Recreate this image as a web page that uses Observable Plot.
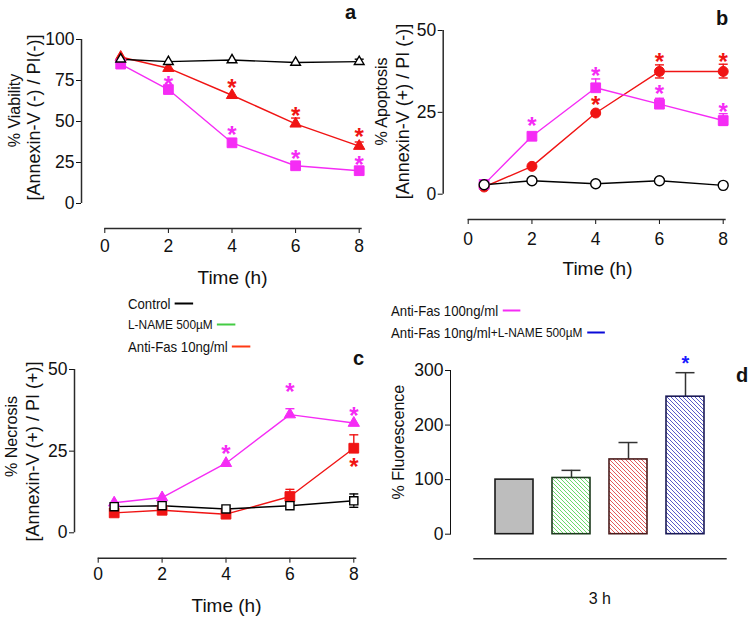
<!DOCTYPE html>
<html>
<head>
<meta charset="utf-8">
<script src="https://cdn.jsdelivr.net/npm/d3@7"></script>
<script src="https://cdn.jsdelivr.net/npm/@observablehq/plot@0.6"></script>
<style>
  body { margin: 0; background: #fff; font-family: "Liberation Sans", Arial, sans-serif; }
  #root { position: relative; width: 749px; height: 618px; overflow: hidden; background: #fff; }
  #root svg { position: absolute; background: transparent; overflow: visible; }
  .leg { position: absolute; font-size: 15px; color: #111; white-space: nowrap; display: flex; align-items: center; transform: translateY(-50%) scaleX(0.88); transform-origin: left center; z-index: 2; }
  .leg .ln { display: inline-block; width: 20.5px; height: 0; border-top: 2.6px solid; margin-left: 5px; }
  .leg .sm { font-size: 13.5px; }
</style>
</head>
<body>
<div id="root"></div>
<script>
// ---------------- DATA ----------------
const times = [0.5, 2, 4, 6, 8];
const timeTicks = [0, 2, 4, 6, 8];

// Panel a: % Viability
const viabilityTicks = [0, 25, 50, 75, 100];
const viabilityControl = [88, 86.5, 87.5, 86, 86.5];
const viabilityControlErrUp = [0, 0, 0, 0, 1.5];
const viabilityControlErrDown = [0, 0, 0, 0, 1.5];
const viabilityFas10 = [89.3, 82.5, 66, 48.6, 35];
const viabilityFas10ErrUp = [0, 0, 0, 3.5, 2.5];
const viabilityFas100 = [85, 69.5, 37, 23, 20];
const viabilityStarsFas10 = [null, null, 74, 57, 44];
const viabilityStarsFas100 = [null, 76, 45.5, 30.7, 27];

// Panel b: % Apoptosis
const apoptosisTicks = [0, 25, 50];
const apoptosisControl = [2.9, 4.1, 3.2, 4.1, 2.7];
const apoptosisFas10 = [2.2, 8.5, 24.8, 37.5, 37.5];
const apoptosisFas10ErrUp = [0, 0, 0, 2, 2.2];
const apoptosisFas10ErrDown = [0, 0, 0, 2, 2];
const apoptosisFas100 = [3, 17.7, 32.5, 27.5, 22.5];
const apoptosisFas100ErrUp = [0, 0, 2.7, 1.8, 2.1];
const apoptosisFas100ErrDown = [0, 0, 0, 0, 1.5];
const apoptosisStarsFas10 = [null, null, 28.9, 42, 42];
const apoptosisStarsFas100 = [null, 22.5, 37.9, 32.3, 26.8];

// Panel c: % Necrosis
const necrosisTicks = [0, 25, 50];
const necrosisControl = [8, 8.3, 7.3, 8.3, 9.8];
const necrosisControlErrUp = [0, 0, 0, 0, 2.1];
const necrosisControlErrDown = [0, 0, 0, 0, 2];
const necrosisFas10 = [6.1, 6.9, 5.7, 11.1, 25.9];
const necrosisFas10ErrUp = [0, 0, 0, 2.2, 4.1];
const necrosisFas100 = [9.2, 10.8, 21.3, 36.2, 33.6];
const necrosisFas100ErrUp = [0, 0, 0, 1.8, 0];
const necrosisStarsFas10 = [null, null, null, null, 22];
const necrosisStarsFas100 = [null, null, 25.9, 44.7, 37.6];

// Panel d: % Fluorescence at 3 h
const groups = ["Control", "L-NAME 500µM", "Anti-Fas 10ng/ml", "Anti-Fas 10ng/ml+L-NAME 500µM"];
const fluorTicks = [0, 100, 200, 300];
const fluorescence = [100, 103, 137, 252];
const fluorescenceErr = [0, 14, 31, 44];
const fluorescenceStars = [null, null, null, 322];

// Legend labels
const legendLeft = ["Control", "L-NAME 500µM", "Anti-Fas 10ng/ml"];
const legendRight = ["Anti-Fas 100ng/ml", ["Anti-Fas 10ng/ml", "+L-NAME 500µM"]];

// ---------------- STYLES ----------------
const AX = "#2a2a2a";
const COL = { control: "#000000", lname: "#44cc44", fas10: "#f01414", fas100: "#f52cf5", combo: "#0a0ad8" };
const FONT = "'Liberation Sans', Arial, Helvetica, sans-serif";
const capSymbol = { draw(ctx, size) { const w = Math.sqrt(size) / 2; ctx.moveTo(-w, 0); ctx.lineTo(w, 0); } };
const CAP_R = 9 / Math.sqrt(Math.PI);

const root = document.getElementById("root");
function place(svg, left, top) {
  svg.style.left = left + "px";
  svg.style.top = top + "px";
  root.appendChild(svg);
}

function rows(values, up, down, stars) {
  return times.map((t, i) => ({
    t, v: values[i],
    up: up ? up[i] : 0,
    dn: down ? down[i] : 0,
    star: stars ? stars[i] : null
  }));
}

function linePanel(L, yDomain, yTicks, series) {
  const insetL = L.x0 - L.frameLeft;
  const insetR = L.frameRight - L.x8;
  const gap = L.axisY - L.y0;
  const midY = (L.yTop + L.axisY) / 2;
  const midX = (L.frameLeft + L.frameRight) / 2;
  const marks = [];
  // axis lines
  marks.push(Plot.ruleX([timeTicks[0]], { y1: yDomain[0], y2: yDomain[1], dx: -insetL, stroke: AX, strokeWidth: 1.5 }));
  marks.push(Plot.ruleY([yDomain[0]], { x1: timeTicks[0], x2: timeTicks[timeTicks.length - 1], dy: gap, insetRight: -3, stroke: AX, strokeWidth: 1.5 }));
  // connecting lines
  for (const s of series) marks.push(Plot.line(s.data, { x: "t", y: "v", stroke: s.color, strokeWidth: 1.4 }));
  // error bars
  for (const s of series) {
    const e = s.data.filter(d => d.up > 0 || d.dn > 0);
    marks.push(Plot.ruleX(e, { x: "t", y1: d => d.v - d.dn, y2: d => d.v + d.up, stroke: s.color, strokeWidth: 1.4 }));
    const caps = e.flatMap(d => [d.up > 0 ? { t: d.t, y: d.v + d.up } : null, d.dn > 0 ? { t: d.t, y: d.v - d.dn } : null]).filter(Boolean);
    marks.push(Plot.dot(caps, { x: "t", y: "y", symbol: capSymbol, r: CAP_R, fill: "none", stroke: s.color, strokeWidth: 1.4 }));
  }
  // markers
  for (const s of series) {
    marks.push(Plot.dot(s.data, {
      x: "t", y: "v", symbol: s.symbol, r: s.r,
      fill: s.open ? "white" : s.color,
      stroke: s.open ? "#000" : s.color,
      strokeWidth: s.open ? 1.4 : 1
    }));
  }
  // significance stars
  for (const s of series) {
    marks.push(Plot.text(s.data.filter(d => d.star != null), {
      x: "t", y: "star", text: () => "*", fill: s.color, fontSize: 24, fontWeight: "bold", dy: 6
    }));
  }
  // titles
  marks.push(Plot.text([L.title1], { text: d => d, frameAnchor: "left", rotate: -90, textAnchor: "middle", lineAnchor: "middle", fontSize: 16, dx: L.t1[0] - L.frameLeft, dy: L.t1[1] - midY }));
  marks.push(Plot.text([L.title2], { text: d => d, frameAnchor: "left", rotate: -90, textAnchor: "middle", lineAnchor: "middle", fontSize: 18, dx: L.t2[0] - L.frameLeft, dy: L.t2[1] - midY }));
  marks.push(Plot.text(["Time (h)"], { text: d => d, frameAnchor: "bottom", textAnchor: "middle", lineAnchor: "middle", fontSize: 19, dx: L.xlab[0] - midX, dy: L.xlab[1] - L.axisY }));
  marks.push(Plot.text([L.letter], { text: d => d, frameAnchor: "top-right", textAnchor: "middle", lineAnchor: "middle", fontSize: 20, fontWeight: "bold", dx: L.letterPos[0] - L.frameRight, dy: L.letterPos[1] - L.yTop }));

  const svg = Plot.plot({
    width: L.w, height: L.h,
    marginLeft: L.frameLeft - L.left,
    marginRight: L.left + L.w - L.frameRight,
    marginTop: L.yTop - L.top,
    marginBottom: L.top + L.h - L.axisY,
    x: { domain: [timeTicks[0], timeTicks[timeTicks.length - 1]], ticks: timeTicks, insetLeft: insetL, insetRight: insetR, tickSize: 5, tickPadding: L.xPad, label: null },
    y: { domain: yDomain, ticks: yTicks, insetBottom: gap, tickSize: 5, tickPadding: 2, label: null },
    style: { background: "transparent", fontFamily: FONT, fontSize: "17.5px", color: "#111", overflow: "visible" },
    marks
  });
  place(svg, L.left, L.top);
}

// Panel a
linePanel(
  { left: 0, top: 0, w: 372, h: 290, frameLeft: 81, frameRight: 362, x0: 104.3, x8: 358.7, yTop: 39, y0: 203, axisY: 228, xPad: 6,
    title1: "% Viability", title2: "[Annexin-V (-) / PI(-)]", t1: [14, 110], t2: [34, 117], xlab: [232, 277], letter: "a", letterPos: [350, 12] },
  [0, 100], viabilityTicks,
  [
    { data: rows(viabilityFas10, viabilityFas10ErrUp, null, viabilityStarsFas10), color: COL.fas10, symbol: "triangle", r: 4.2 },
    { data: rows(viabilityFas100, null, null, viabilityStarsFas100), color: COL.fas100, symbol: "square", r: 5.5 },
    { data: rows(viabilityControl, viabilityControlErrUp, viabilityControlErrDown, null), color: COL.control, symbol: "triangle", r: 3.6, open: true }
  ]
);

// Panel b
linePanel(
  { left: 372, top: 0, w: 377, h: 290, frameLeft: 442.7, frameRight: 724, x0: 467.7, x8: 722.7, yTop: 30, y0: 193.7, axisY: 219, xPad: 8,
    title1: "% Apoptosis", title2: "[Annexin-V (+) / PI (-)]", t1: [381, 101], t2: [403, 111], xlab: [597, 268], letter: "b", letterPos: [721.5, 18] },
  [0, 50], apoptosisTicks,
  [
    { data: rows(apoptosisFas10, apoptosisFas10ErrUp, apoptosisFas10ErrDown, apoptosisStarsFas10), color: COL.fas10, symbol: "circle", r: 5 },
    { data: rows(apoptosisFas100, apoptosisFas100ErrUp, apoptosisFas100ErrDown, apoptosisStarsFas100), color: COL.fas100, symbol: "square", r: 5.5 },
    { data: rows(apoptosisControl, null, null, null), color: COL.control, symbol: "circle", r: 5, open: true }
  ]
);

// Panel c
linePanel(
  { left: 0, top: 290, w: 372, h: 328, frameLeft: 74, frameRight: 355, x0: 97.7, x8: 353.3, yTop: 369, y0: 532.3, axisY: 557.7, xPad: 4,
    title1: "% Necrosis", title2: "[Annexin-V (+) / PI (+)]", t1: [11, 436], t2: [33, 451], xlab: [226, 605], letter: "c", letterPos: [358, 358] },
  [0, 50], necrosisTicks,
  [
    { data: rows(necrosisFas10, necrosisFas10ErrUp, null, necrosisStarsFas10), color: COL.fas10, symbol: "square", r: 5.5 },
    { data: rows(necrosisFas100, necrosisFas100ErrUp, null, necrosisStarsFas100), color: COL.fas100, symbol: "triangle", r: 4.2 },
    { data: rows(necrosisControl, necrosisControlErrUp, necrosisControlErrDown, null), color: COL.control, symbol: "square", r: 4.6, open: true }
  ]
);

// Panel d
(function () {
  const L = { left: 372, top: 290, w: 377, h: 328, frameLeft: 450, frameRight: 726.7, yTop: 370, y0: 533.7, baseY: 558.3, insetL: 23.6, insetR: 2.1 };
  const barStyle = [
    { fill: "#bdbdbd", stroke: "#1a1a1a" },
    { fill: "url(#hatch-green)", stroke: "#1d3a1d" },
    { fill: "url(#hatch-red)", stroke: "#4a1c1c" },
    { fill: "url(#hatch-blue)", stroke: "#1a1a55" }
  ];
  const hatch = [
    { id: "hatch-green", color: "#5ad65a" },
    { id: "hatch-red", color: "#e04848" },
    { id: "hatch-blue", color: "#4747c2" }
  ];
  const data = groups.map((g, i) => ({ g, v: fluorescence[i], err: fluorescenceErr[i], star: fluorescenceStars[i], fill: barStyle[i].fill, stroke: barStyle[i].stroke }));
  const errs = data.filter(d => d.err > 0);
  const midX = (L.frameLeft + L.frameRight) / 2;
  const midY = (L.yTop + L.y0) / 2;
  const svg = Plot.plot({
    width: L.w, height: L.h,
    marginLeft: L.frameLeft - L.left,
    marginRight: L.left + L.w - L.frameRight,
    marginTop: L.yTop - L.top,
    marginBottom: L.top + L.h - L.y0,
    x: { type: "band", domain: groups, padding: 0.33, insetLeft: L.insetL, insetRight: L.insetR, axis: null },
    y: { domain: [0, 300], ticks: fluorTicks, line: true, tickSize: 5, tickPadding: 2, label: null },
    color: { type: "identity" },
    style: { background: "transparent", fontFamily: FONT, fontSize: "17.5px", color: "#111", overflow: "visible" },
    marks: [
      Plot.ruleX(errs, { x: "g", y1: "v", y2: d => d.v + d.err, stroke: "#333", strokeWidth: 1.5 }),
      Plot.tickY(errs, { x: "g", y: d => d.v + d.err, insetLeft: 9.5, insetRight: 9.5, stroke: "#333", strokeWidth: 1.5 }),
      Plot.barY(data, { x: "g", y: "v", fill: "fill", stroke: "stroke", strokeWidth: 1.6 }),
      Plot.text(data.filter(d => d.star != null), { x: "g", y: "star", text: () => "*", fill: "#1a1aff", fontSize: 20, fontWeight: "bold", dy: 5 }),
      Plot.ruleY([0], { dy: L.baseY - L.y0, insetLeft: L.insetL - 0.3, stroke: AX, strokeWidth: 1.5 }),
      Plot.text(["3 h"], { text: d => d, frameAnchor: "bottom", textAnchor: "middle", lineAnchor: "middle", fontSize: 16, dx: 599.3 - midX, dy: 598 - L.y0 }),
      Plot.text(["% Fluorescence"], { text: d => d, frameAnchor: "left", rotate: -90, textAnchor: "middle", lineAnchor: "middle", fontSize: 16, dx: 398 - L.frameLeft, dy: 441.6 - midY }),
      Plot.text(["d"], { text: d => d, frameAnchor: "top-right", textAnchor: "middle", lineAnchor: "middle", fontSize: 20, fontWeight: "bold", dx: 741.7 - L.frameRight, dy: 375 - L.yTop })
    ]
  });
  const defs = d3.select(svg).insert("defs", ":first-child");
  for (const h of hatch) {
    const p = defs.append("pattern").attr("id", h.id).attr("patternUnits", "userSpaceOnUse").attr("width", 4).attr("height", 4);
    p.append("rect").attr("width", 4).attr("height", 4).attr("fill", "white");
    p.append("path").attr("d", "M-1,-1L5,5M-1,3L1,5M3,-1L5,1").attr("stroke", h.color).attr("stroke-width", 0.9);
  }
  place(svg, L.left, L.top);
})();

// Legend
const legendLayout = {
  left: [{ x: 128, y: 303, color: COL.control }, { x: 128, y: 324, color: COL.lname, small: true }, { x: 128, y: 346, color: "#ff3a14" }],
  right: [{ x: 391, y: 310, color: COL.fas100 }, { x: 391, y: 332, color: COL.combo }]
};
function addLegend(labels, layout) {
  labels.forEach((lab, i) => {
    const P = layout[i];
    const div = document.createElement("div");
    div.className = "leg";
    div.style.left = P.x + "px";
    div.style.top = P.y + "px";
    const parts = Array.isArray(lab) ? lab : [lab];
    parts.forEach((part, j) => {
      const t = document.createElement("span");
      t.textContent = part;
      if (P.small || j > 0) t.className = "sm";
      div.appendChild(t);
    });
    const ln = document.createElement("span");
    ln.className = "ln";
    ln.style.borderColor = P.color;
    div.appendChild(ln);
    root.appendChild(div);
  });
}
addLegend(legendLeft, legendLayout.left);
addLegend(legendRight, legendLayout.right);
</script>
</body>
</html>
